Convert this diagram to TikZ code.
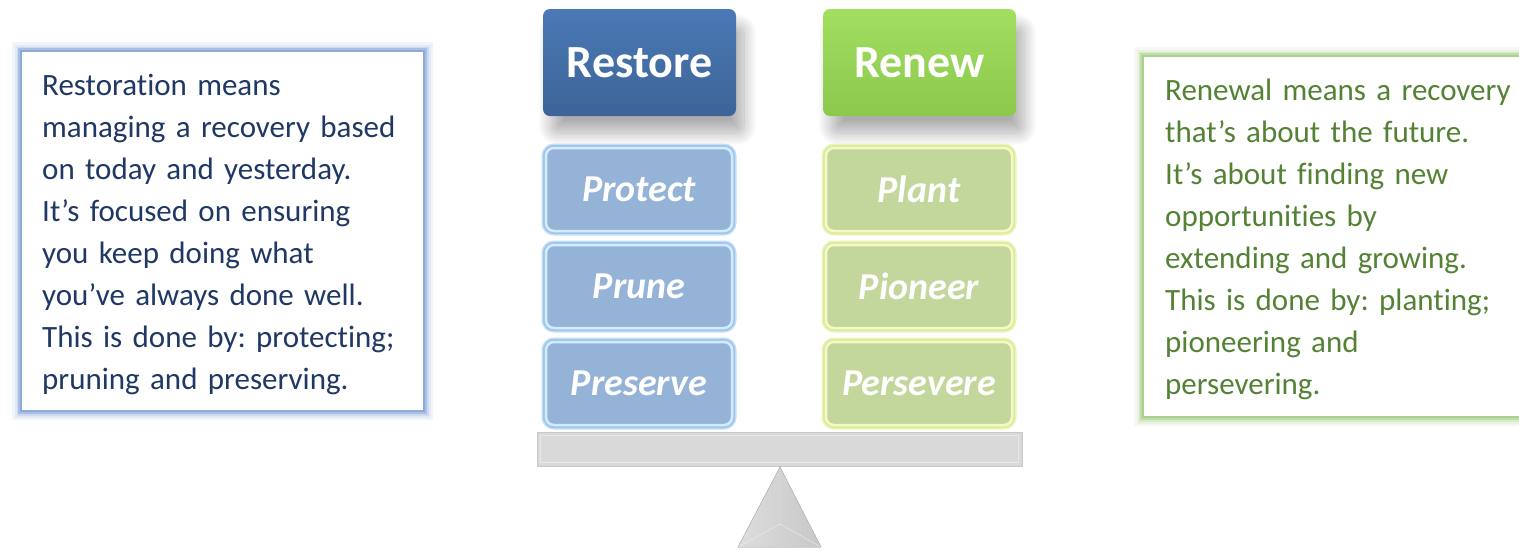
\documentclass[tikz,border=0pt]{standalone}
\usepackage{fontspec}
\setmainfont{Carlito}[Ligatures=NoCommon]
\usepackage{tikz}
\usetikzlibrary{positioning,shadows.blur}
\definecolor{navytext}{HTML}{203864}
\definecolor{leaftext}{HTML}{548235}
\definecolor{restoretop}{HTML}{4A79B6}
\definecolor{restorebot}{HTML}{3D6496}
\definecolor{renewtop}{HTML}{A2DE60}
\definecolor{renewbot}{HTML}{8BC84C}
\definecolor{stepblue}{HTML}{95B3D7}
\definecolor{stepblueedge}{HTML}{D2ECFB}
\definecolor{stepglowblue}{HTML}{9DC6EC}
\definecolor{stepgreen}{HTML}{C3D69B}
\definecolor{stepgreenedge}{HTML}{F4F9C8}
\definecolor{stepglowgreen}{HTML}{DCEC96}
\definecolor{frameblue}{HTML}{8EAADB}
\definecolor{framegreen}{HTML}{A9D18E}
\definecolor{beamgrey}{HTML}{D9D9D9}
\tikzset{%
  headbtn/.style={rectangle, rounded corners=7pt, minimum width=193pt, minimum height=107pt,
    inner sep=0pt, text=white, font=\fontsize{46}{50}\selectfont\bfseries,
    blur shadow={shadow xshift=8pt, shadow yshift=-17pt, shadow opacity=32,
      shadow blur steps=14, shadow blur radius=13pt}},
  stepbtn/.style={rectangle, rounded corners=8pt, minimum width=186pt, minimum height=83pt,
    inner sep=0pt, line width=2.5pt, text=white, font=\fontsize{38}{42}\selectfont\bfseries\itshape},
  stepblue/.style={stepbtn, fill=stepblue, draw=stepblueedge,
    preaction={draw=stepglowblue!60, line width=9pt}, preaction={draw=stepglowblue, line width=6pt}},
  stepgreen/.style={stepbtn, fill=stepgreen, draw=stepgreenedge,
    preaction={draw=stepglowgreen!60, line width=9pt}, preaction={draw=stepglowgreen, line width=6pt}},
  textframe/.style args={#1 and #2}{rectangle, fill=white, draw=#1, line width=2.5pt,
    minimum width=#2, inner sep=0pt,
    preaction={draw=#1!12, line width=18pt}, preaction={draw=#1!25, line width=13pt},
    preaction={draw=#1!45, line width=9pt}, preaction={draw=#1!75, line width=5.5pt}},
  bodytext/.style={anchor=base west, inner sep=0pt, text width=400pt, align=left,
    font=\fontsize{31}{42}\selectfont\frenchspacing}
}
\begin{document}
\begin{tikzpicture}[x=1pt,y=-1pt]
    \clip (0,0) rectangle (1519,550);

    % Text panels either side
    \node[textframe=frameblue and 403pt, minimum height=360pt] (restoreframe) at (222.5,231) {};
    \node[bodytext, text=navytext] (restoretext) at (42,95) {Restoration means\\
      managing a recovery based\\ on today and yesterday.\\ It’s focused on ensuring\\
      you keep doing what\\ you’ve always done well.\\ This is done by: protecting;\\
      pruning and preserving.};

    \node[textframe=framegreen and 392pt, minimum height=361pt] (renewframe) at (1339,236.5) {};
    \node[bodytext, text=leaftext] (renewtext) at (1165,100) {Renewal means a recovery\\
      that’s about the future.\\ It’s about finding new\\ opportunities by\\
      extending and growing.\\ This is done by: planting;\\ pioneering and\\
      persevering.};

    % Headings
    \node[headbtn, top color=restoretop, bottom color=restorebot] (restore) at (639.5,62.5) {Restore};
    \node[headbtn, top color=renewtop, bottom color=renewbot] (renew) at (919.5,62.5) {Renew};

    % Steps on each side
    \foreach \name/\lbl/\yc in {protect/Protect/189.5, prune/Prune/286.5, preserve/Preserve/383.5}
        \node[stepblue] (\name) at (639,\yc) {\lbl};
    \foreach \name/\lbl/\yc in {plant/Plant/189.5, pioneer/Pioneer/286.5, persevere/Persevere/383.5}
        \node[stepgreen] (\name) at (919,\yc) {\lbl};

    % Beam and fulcrum
    \node[rectangle, fill=beamgrey, draw=beamgrey!92!black, line width=0.5pt,
          minimum width=485pt, minimum height=34pt, inner sep=0pt] (beam) at (779.5,449) {};
    \draw[white!40!beamgrey, line width=0.8pt] ([shift={(4pt,4pt)}]beam.south west) rectangle ([shift={(-4pt,-4pt)}]beam.north east);
    \coordinate (apex) at (780,467);
    \coordinate (baseL) at (738,547);
    \coordinate (baseR) at (821,547);
    \coordinate (mid) at (780,524);
    \fill[left color=beamgrey!90!white, right color=beamgrey!92!black] (apex) -- (baseR) -- (baseL) -- cycle;
    \draw[white!55!beamgrey, line width=0.4pt] (apex) -- (mid) -- (baseR) (mid) -- (baseL);
    \draw[beamgrey!88!black, line width=0.5pt] (apex) -- (baseR) -- (baseL) -- cycle;

\end{tikzpicture}
\end{document}
